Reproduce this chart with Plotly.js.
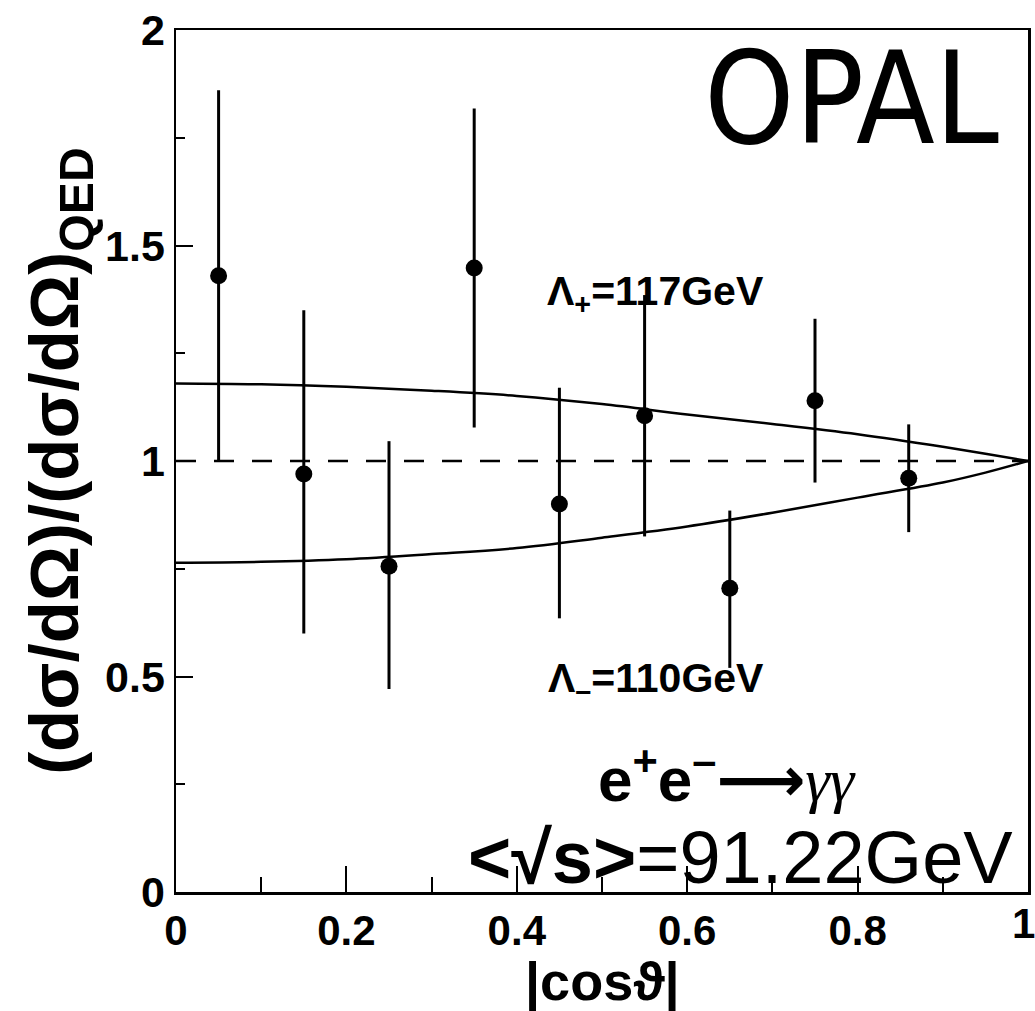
<!DOCTYPE html>
<html>
<head>
<meta charset="utf-8">
<script src="https://cdn.plot.ly/plotly-3.0.1.min.js"></script>
<style>html,body{margin:0;padding:0;background:#fff;}#chart{width:1035px;height:1011px;}</style>
</head>
<body>
<div id="chart"></div>
<script>
// Measured points: |cos theta| bin centres, ratio and asymmetric errors
const cosTheta = [0.05, 0.15, 0.25, 0.35, 0.45, 0.55, 0.65, 0.75, 0.86];
const ratio    = [1.43, 0.97, 0.756, 1.448, 0.90, 1.105, 0.705, 1.14, 0.96];
const errUp    = [0.43, 0.38, 0.29, 0.37, 0.27, 0.28, 0.18, 0.19, 0.125];
const errDown  = [0.43, 0.37, 0.285, 0.37, 0.265, 0.28, 0.185, 0.19, 0.125];

// Lambda_+ = 117 GeV curve
const curveX      = [0, 0.1, 0.2, 0.3, 0.4, 0.5, 0.6, 0.7, 0.8, 0.9, 0.95, 1.0];
const curvePlus   = [1.180, 1.178, 1.172, 1.163, 1.151, 1.132, 1.108, 1.086, 1.062, 1.033, 1.017, 1.0];
// Lambda_- = 110 GeV curve
const curveMinus  = [0.764, 0.766, 0.772, 0.784, 0.798, 0.822, 0.848, 0.880, 0.915, 0.950, 0.973, 1.0];

// QED reference line
const qedX = [0, 1];
const qedY = [1, 1];

const xTickVals = [0, 0.2, 0.4, 0.6, 0.8, 1];
const xTickText = ['0', '0.2', '0.4', '0.6', '0.8', '1'];
const yTickVals = [0, 0.5, 1, 1.5, 2];
const yTickText = ['0', '0.5', '1', '1.5', '2'];

const black = '#000000';

const traces = [
  {x: qedX, y: qedY, mode: 'lines', line: {color: black, width: 2.5, dash: '20px,18px'}, hoverinfo: 'skip'},
  {x: curveX, y: curvePlus, mode: 'lines', line: {color: black, width: 2.5, shape: 'spline'}, hoverinfo: 'skip'},
  {x: curveX, y: curveMinus, mode: 'lines', line: {color: black, width: 2.5, shape: 'spline'}, hoverinfo: 'skip'},
  {x: cosTheta, y: ratio, mode: 'markers', type: 'scatter',
   marker: {color: black, size: 17},
   error_y: {type: 'data', symmetric: false, array: errUp, arrayminus: errDown, color: black, thickness: 3, width: 0}}
];

const sans = 'Liberation Sans, Arial, sans-serif';

// last x tick label sits on the page edge: drawn as an annotation so it is not dropped
const lastIdx = xTickVals.length - 1;
const shownXText = xTickText.map((t, i) => i === lastIdx ? '' : t);

const layout = {
  width: 1035, height: 1011,
  margin: {l: 176, r: 7, t: 30, b: 119},
  paper_bgcolor: '#fff', plot_bgcolor: '#fff',
  showlegend: false,
  xaxis: {
    range: [0, 1], showgrid: false, zeroline: false,
    showline: true, linecolor: black, linewidth: 2.5, mirror: true,
    ticks: 'inside', ticklen: 26, tickwidth: 2, tickcolor: black,
    tickvals: xTickVals, ticktext: shownXText,
    minor: {tickvals: [0.1, 0.3, 0.5, 0.7, 0.9], ticks: 'inside', ticklen: 15, tickwidth: 2, tickcolor: black},
    tickfont: {family: sans, size: 42, color: black, weight: 'bold'}
  },
  yaxis: {
    range: [0, 2], showgrid: false, zeroline: false,
    showline: true, linecolor: black, linewidth: 2.5, mirror: true,
    ticks: 'inside', ticklen: 17, tickwidth: 2, tickcolor: black,
    tickvals: yTickVals, ticktext: yTickText,
    minor: {tickvals: [0.25, 0.75, 1.25, 1.75], ticks: 'inside', ticklen: 9, tickwidth: 2, tickcolor: black},
    tickfont: {family: sans, size: 43, color: black, weight: 'bold'},
    title: {text: '<b>(dσ/dΩ)/(dσ/dΩ)<sub>QED</sub></b>', font: {family: sans, size: 69, color: black}, standoff: 4}
  },
  annotations: [
    {x: xTickVals[lastIdx], y: 0, xref: 'x', yref: 'paper', xanchor: 'right', yanchor: 'top', xshift: 9, yshift: -6, showarrow: false,
     text: '<b>' + xTickText[lastIdx] + '</b>', font: {family: sans, size: 42, color: black}},
    {x: 0.5, y: -0.066, xref: 'paper', yref: 'paper', xanchor: 'center', yanchor: 'top', showarrow: false,
     text: '<b>|cosϑ|</b>', font: {family: sans, size: 54, color: black}},
    {x: 0.968, y: 1.84, xref: 'x', yref: 'y', xanchor: 'right', yanchor: 'middle', showarrow: false,
     text: 'OPAL', font: {family: 'DejaVu Sans Condensed, Liberation Sans Narrow, Liberation Sans, sans-serif', size: 128, color: black}},
    {x: 0.563, y: 1.387, xref: 'x', yref: 'y', xanchor: 'center', yanchor: 'middle', showarrow: false,
     text: '<b>Λ<sub>+</sub>=117GeV</b>', font: {family: sans, size: 41, color: black}},
    {x: 0.563, y: 0.49, xref: 'x', yref: 'y', xanchor: 'center', yanchor: 'middle', showarrow: false,
     text: '<b>Λ<sub>–</sub>=110GeV</b>', font: {family: sans, size: 41, color: black}},
    {x: 0.647, y: 0.268, xref: 'x', yref: 'y', xanchor: 'center', yanchor: 'middle', showarrow: false,
     text: '<b>e<sup>+</sup>e<sup>–</sup></b><span style="font-family:DejaVu Sans;font-weight:bold">⟶</span><span style="font-family:Liberation Serif"><i>γγ</i></span>',
     font: {family: sans, size: 62, color: black}},
    {x: 0.985, y: 0.08, xref: 'x', yref: 'y', xanchor: 'right', yanchor: 'middle', showarrow: false,
     text: '<b>&lt;√s&gt;</b>=91.22GeV', font: {family: sans, size: 74, color: black}}
  ]
};

Plotly.newPlot('chart', traces, layout, {displayModeBar: false, staticPlot: true});
</script>
</body>
</html>
